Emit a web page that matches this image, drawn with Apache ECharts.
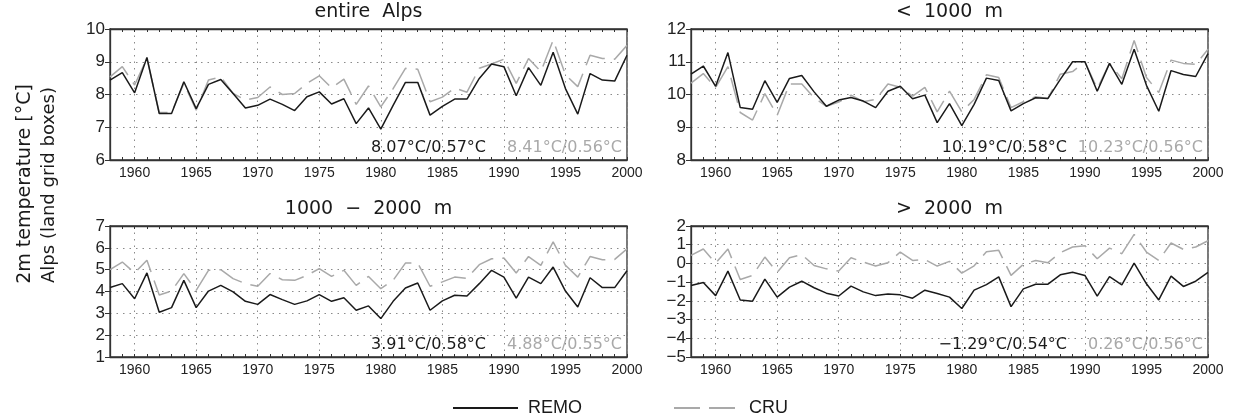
<!DOCTYPE html>
<html>
<head>
<meta charset="utf-8">
<script src="https://cdn.jsdelivr.net/npm/echarts@6/dist/echarts.min.js"></script>
<style>
  html, body { margin: 0; padding: 0; background: #fff; }
  #chart { width: 1234px; height: 417px; }
</style>
</head>
<body>
<div id="chart"></div>
<script>
// years on the x axis
var years = ['1958', '1959', '1960', '1961', '1962', '1963', '1964', '1965', '1966', '1967',
    '1968', '1969', '1970', '1971', '1972', '1973', '1974', '1975', '1976', '1977',
    '1978', '1979', '1980', '1981', '1982', '1983', '1984', '1985', '1986', '1987',
    '1988', '1989', '1990', '1991', '1992', '1993', '1994', '1995', '1996', '1997',
    '1998', '1999', '2000'];

var panelTitles = ['entire  Alps', '<  1000  m', '1000  \u2212  2000  m', '>  2000  m'];
var yMin = [6, 8, 1, -5];
var yMax = [10, 12, 7, 2];

// entire Alps
var remoAll = [8.44, 8.67, 8.05, 9.13, 7.42, 7.42, 8.39, 7.57, 8.31, 8.46, 8.03, 7.59, 7.67, 7.86, 7.70,
    7.51, 7.93, 8.08, 7.71, 7.87, 7.11, 7.59, 6.94, 7.67, 8.37, 8.37, 7.37, 7.64, 7.86, 7.86,
    8.49, 8.93, 8.85, 7.96, 8.82, 8.28, 9.29, 8.18, 7.40, 8.64, 8.44, 8.41, 9.20];
var cruAll = [8.54, 8.85, 8.29, 9.10, 7.45, 7.45, 8.34, 7.52, 8.44, 8.54, 8.03, 7.83, 7.91, 8.23, 8.00,
    8.03, 8.34, 8.57, 8.20, 8.47, 7.70, 8.26, 7.62, 8.18, 8.80, 8.77, 7.78, 7.92, 8.20, 8.07,
    8.80, 8.93, 9.08, 8.34, 9.10, 8.70, 9.66, 8.60, 8.24, 9.20, 9.10, 9.08, 9.50];

// < 1000 m
var remoLow = [10.62, 10.87, 10.25, 11.28, 9.60, 9.55, 10.42, 9.76, 10.49, 10.58, 10.08, 9.64, 9.83, 9.91, 9.80,
    9.60, 10.10, 10.25, 9.87, 9.98, 9.14, 9.72, 9.05, 9.70, 10.50, 10.43, 9.50, 9.72, 9.90, 9.88,
    10.46, 11.00, 11.00, 10.10, 10.95, 10.31, 11.38, 10.28, 9.49, 10.73, 10.61, 10.55, 11.25];
var cruLow = [10.35, 10.64, 10.21, 10.85, 9.45, 9.22, 10.03, 9.36, 10.32, 10.32, 9.90, 9.64, 9.77, 9.98, 9.78,
    9.85, 10.32, 10.22, 9.95, 10.22, 9.47, 10.10, 9.47, 9.85, 10.60, 10.52, 9.60, 9.78, 9.93, 9.88,
    10.62, 10.70, 11.00, 10.18, 10.95, 10.48, 11.65, 10.52, 10.06, 11.05, 10.95, 10.92, 11.38];

// 1000 - 2000 m
var remoMid = [4.18, 4.36, 3.67, 4.85, 3.05, 3.26, 4.51, 3.26, 4.02, 4.28, 3.98, 3.55, 3.41, 3.86, 3.63,
    3.41, 3.57, 3.86, 3.55, 3.71, 3.14, 3.34, 2.76, 3.55, 4.16, 4.39, 3.14, 3.57, 3.83, 3.79,
    4.36, 4.97, 4.66, 3.70, 4.66, 4.36, 5.12, 4.02, 3.29, 4.63, 4.18, 4.18, 4.95];
var cruMid = [5.00, 5.35, 4.85, 5.43, 3.84, 4.02, 4.82, 4.05, 4.97, 5.00, 4.59, 4.36, 4.24, 4.82, 4.54,
    4.51, 4.74, 5.05, 4.69, 4.97, 4.28, 4.69, 4.13, 4.51, 5.30, 5.30, 4.24, 4.44, 4.66, 4.60,
    5.23, 5.50, 5.53, 4.85, 5.60, 5.20, 6.27, 5.20, 4.66, 5.60, 5.45, 5.47, 5.95];

// > 2000 m
var remoHigh = [-1.18, -1.02, -1.72, -0.41, -1.95, -2.02, -0.84, -1.80, -1.27, -0.95, -1.30, -1.59, -1.74, -1.21, -1.52,
    -1.72, -1.63, -1.68, -1.86, -1.43, -1.61, -1.80, -2.41, -1.43, -1.13, -0.72, -2.31, -1.36, -1.11, -1.11,
    -0.61, -0.47, -0.64, -1.75, -0.70, -1.14, 0.02, -1.09, -1.95, -0.68, -1.23, -0.95, -0.48];
var cruHigh = [0.43, 0.77, 0.02, 0.77, -0.86, -0.64, 0.34, -0.48, 0.30, 0.47, -0.11, -0.29, -0.41, 0.30, 0.07,
    -0.14, 0.04, 0.61, 0.16, 0.21, -0.14, 0.11, -0.52, -0.13, 0.63, 0.70, -0.64, -0.05, 0.16, 0.04,
    0.57, 0.88, 0.95, 0.25, 0.82, 0.52, 1.55, 0.61, 0.16, 1.09, 0.75, 0.88, 1.21];

// mean / std labels
var remoStats = ['8.07\u00b0C/0.57\u00b0C', '10.19\u00b0C/0.58\u00b0C', '3.91\u00b0C/0.58\u00b0C', '\u22121.29\u00b0C/0.54\u00b0C'];
var cruStats = ['8.41\u00b0C/0.56\u00b0C', '10.23\u00b0C/0.56\u00b0C', '4.88\u00b0C/0.55\u00b0C', '0.26\u00b0C/0.56\u00b0C'];

var remoSeries = [remoAll, remoLow, remoMid, remoHigh];
var cruSeries = [cruAll, cruLow, cruMid, cruHigh];

var BLACK = '#1a1a1a';
var GRAY = '#a9a9a9';
var FONT = "'Liberation Sans', Arial, sans-serif";
var WIDE = "'DejaVu Sans', sans-serif";

var chart = echarts.init(document.getElementById('chart'));

var pos = [[110, 29], [691, 29], [110, 226], [691, 226]];
var plotW = 517, plotH = 131;

var every5 = function (idx, val) { return parseInt(val, 10) % 5 === 0; };
var dotted = { color: '#8a8a8a', width: 1, type: [1.5, 5] };

var grid = [], xAxis = [], yAxis = [], series = [], title = [], graphic = [];

for (var i = 0; i < 4; i++) {
    grid.push({
        left: pos[i][0], top: pos[i][1], width: plotW, height: plotH,
        show: true, borderColor: '#333', borderWidth: 1.3
    });
    xAxis.push({
        type: 'category', gridIndex: i, data: years, boundaryGap: false,
        axisLine: { onZero: false, lineStyle: { color: '#333', width: 1.3 } },
        axisTick: { inside: true, interval: 0, length: 3, lineStyle: { color: '#333' } },
        axisLabel: { interval: every5, fontSize: 14, fontFamily: FONT, color: '#222', margin: 6 },
        splitLine: { show: true, interval: every5, lineStyle: dotted }
    });
    xAxis.push({
        type: 'category', gridIndex: i, data: years, boundaryGap: false, position: 'top',
        axisLine: { onZero: false, lineStyle: { color: '#333', width: 1.3 } },
        axisTick: { inside: true, interval: 0, length: 3, lineStyle: { color: '#333' } },
        axisLabel: { show: false },
        splitLine: { show: false }
    });
    yAxis.push({
        type: 'value', gridIndex: i, min: yMin[i], max: yMax[i], interval: 1,
        axisLine: { show: true, onZero: false, lineStyle: { color: '#333', width: 1.3 } },
        axisTick: { show: true, length: 5, lineStyle: { color: '#333' } },
        axisLabel: {
            fontSize: 17, fontFamily: FONT, color: '#222', margin: 5,
            formatter: function (v) { return String(v).replace('-', '\u2212'); }
        },
        splitLine: { show: true, lineStyle: dotted }
    });
    series.push({
        name: 'REMO', type: 'line', xAxisIndex: i * 2, yAxisIndex: i,
        data: remoSeries[i], symbol: 'none', z: 3,
        lineStyle: { color: BLACK, width: 1.5 }, itemStyle: { color: BLACK }
    });
    series.push({
        name: 'CRU', type: 'line', xAxisIndex: i * 2, yAxisIndex: i,
        data: cruSeries[i], symbol: 'none', z: 2,
        lineStyle: { color: GRAY, width: 1.5, type: [26, 9] }, itemStyle: { color: GRAY }
    });
    title.push({
        text: panelTitles[i], left: pos[i][0] + plotW / 2, top: pos[i][1] - 26,
        textAlign: 'center', padding: 0,
        textStyle: { fontSize: 19, fontWeight: 'normal', fontFamily: WIDE, color: '#1a1a1a' }
    });
    var ty = pos[i][1] + plotH - 12;
    var rx = pos[i][0] + plotW;
    graphic.push({
        type: 'text', x: rx - 141, y: ty,
        style: { text: remoStats[i], fill: BLACK, font: "16px 'DejaVu Sans', sans-serif", align: 'right', verticalAlign: 'middle' }
    });
    graphic.push({
        type: 'text', x: rx - 5, y: ty,
        style: { text: cruStats[i], fill: GRAY, font: "16px 'DejaVu Sans', sans-serif", align: 'right', verticalAlign: 'middle' }
    });
}

// shared y-axis name
graphic.push({
    type: 'text', x: 25, y: 184, rotation: Math.PI / 2,
    style: { text: '2m temperature [\u00b0C]', fill: '#1a1a1a', font: "19px 'DejaVu Sans', sans-serif", align: 'center', verticalAlign: 'middle' }
});
graphic.push({
    type: 'text', x: 49, y: 185, rotation: Math.PI / 2,
    style: { text: 'Alps (land grid boxes)', fill: '#1a1a1a', font: "18px 'DejaVu Sans', sans-serif", align: 'center', verticalAlign: 'middle' }
});

var legendText = { fontSize: 18, fontFamily: FONT, color: '#1a1a1a', padding: [0, 0, 0, 5] };

chart.setOption({
    animation: false,
    backgroundColor: '#fff',
    title: title,
    grid: grid,
    xAxis: xAxis,
    yAxis: yAxis,
    legend: [
        { data: ['REMO'], left: 447, top: 394, itemWidth: 65, itemHeight: 20, itemStyle: { opacity: 0 }, textStyle: legendText },
        { data: ['CRU'], left: 668, top: 394, itemWidth: 65, itemHeight: 20, itemStyle: { opacity: 0 }, textStyle: legendText }
    ],
    graphic: graphic,
    series: series
});
</script>
</body>
</html>
